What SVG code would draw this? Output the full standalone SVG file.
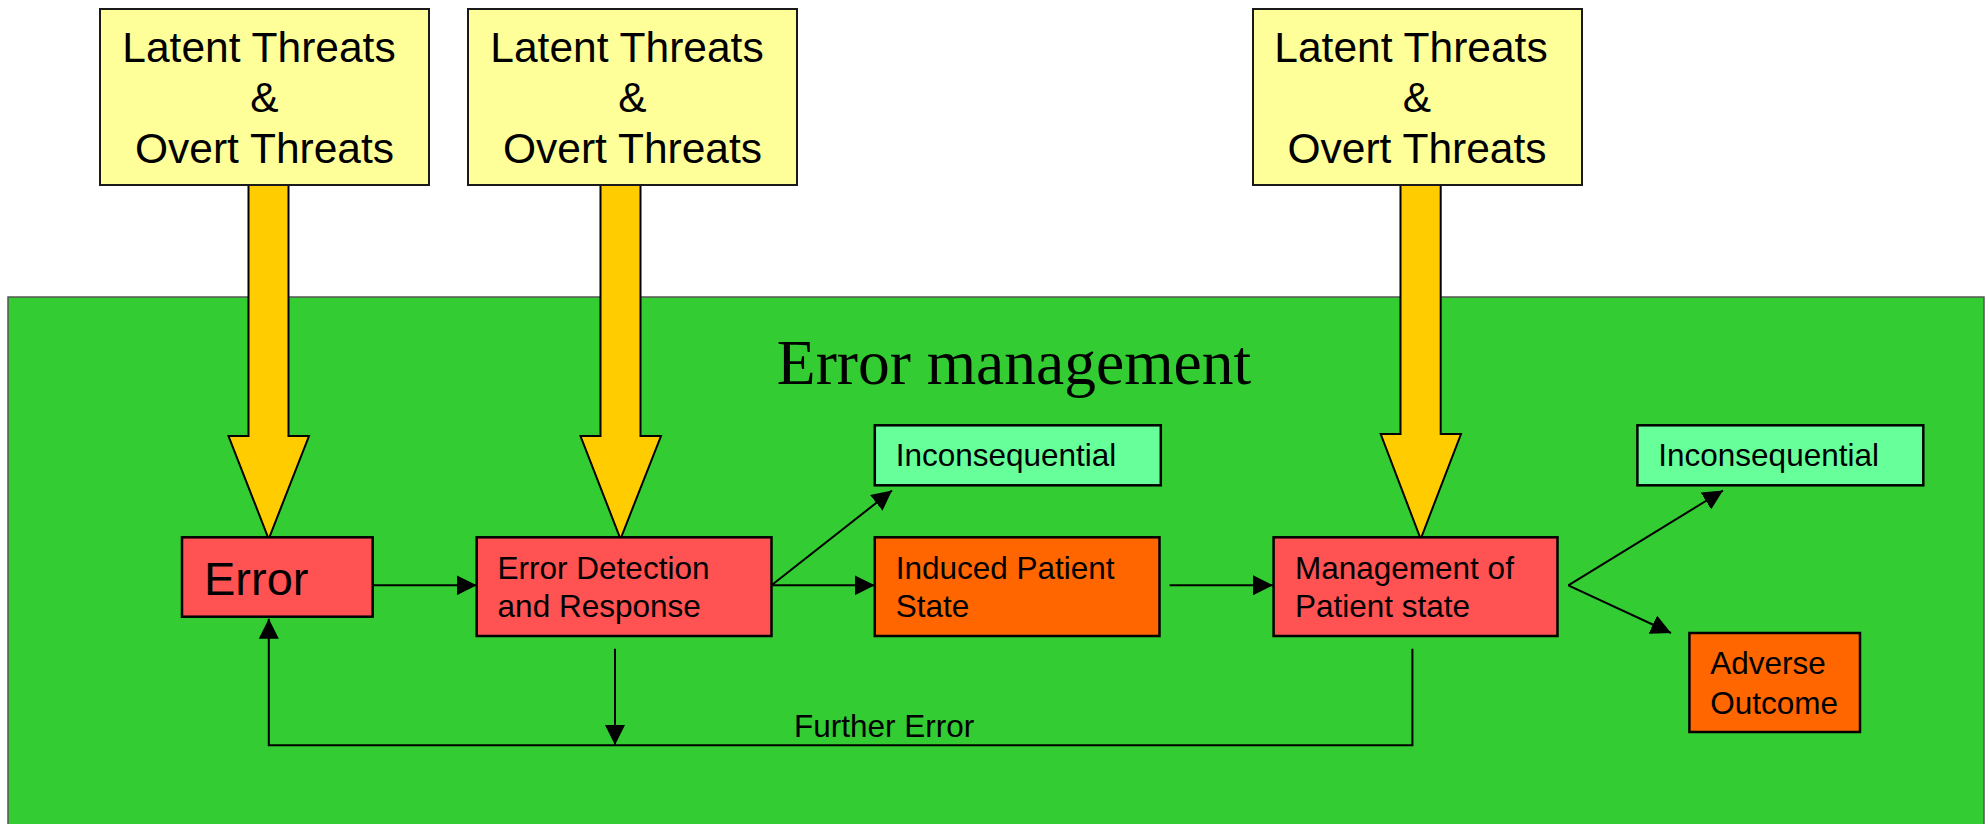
<svg xmlns="http://www.w3.org/2000/svg" width="1988" height="824" viewBox="0 0 1988 824">
<style>
.threat{fill:#FFFF99;stroke:#1a1a1a;stroke-width:2}
.big{fill:#FFCC00;stroke:#000;stroke-width:2;stroke-linejoin:miter}
.red{fill:#FF5252;stroke:#000;stroke-width:2.5}
.orange{fill:#FF6600;stroke:#000;stroke-width:2.5}
.lg{fill:#66FF99;stroke:#000;stroke-width:2.5}
.t42{font-family:"Liberation Sans",Arial,sans-serif;font-size:42.5px;fill:#000;text-anchor:middle}
.t31{font-family:"Liberation Sans",Arial,sans-serif;font-size:31.5px;fill:#000}
.conn{fill:none;stroke:#000;stroke-width:2}
</style>
<defs>
<marker id="ah" markerUnits="userSpaceOnUse" markerWidth="20" markerHeight="20" refX="20" refY="10" orient="auto" viewBox="0 0 20 20">
<path d="M0,0 L20,10 L0,20 z" fill="#000"/>
</marker>
</defs>
<rect id="frame" x="8" y="297" width="1976" height="540" fill="#33CC33" stroke="#555" stroke-width="1.5"/>
<text x="1014" y="384" font-family="'Liberation Serif','Times New Roman',serif" font-size="63.5" text-anchor="middle" fill="#000">Error management</text>

<g id="threat-arrows">
<polygon class="big" points="248.5,185 248.5,436 228.5,436 268.7,539 309,436 288.5,436 288.5,185"/>
<polygon class="big" points="600.5,185 600.5,436 580.5,436 620.5,539 661,436 640.5,436 640.5,185"/>
<polygon class="big" points="1400.5,185 1400.5,434 1380.7,434 1420.7,539 1461,434 1440.7,434 1440.7,185"/>
</g>

<g id="threat1">
<rect class="threat" x="100" y="9" width="329" height="176"/>
<text class="t42" x="259" y="62">Latent Threats</text>
<text class="t42" x="264.5" y="112">&amp;</text>
<text class="t42" x="264.5" y="163">Overt Threats</text>
</g>
<g id="threat2">
<rect class="threat" x="468" y="9" width="329" height="176"/>
<text class="t42" x="627" y="62">Latent Threats</text>
<text class="t42" x="632.5" y="112">&amp;</text>
<text class="t42" x="632.5" y="163">Overt Threats</text>
</g>
<g id="threat3">
<rect class="threat" x="1253" y="9" width="329" height="176"/>
<text class="t42" x="1411" y="62">Latent Threats</text>
<text class="t42" x="1417" y="112">&amp;</text>
<text class="t42" x="1417" y="163">Overt Threats</text>
</g>

<g id="connectors">
<line class="conn" x1="373" y1="585.3" x2="476.7" y2="585.3" marker-end="url(#ah)"/>
<line class="conn" x1="771.5" y1="585.3" x2="874.8" y2="585.3" marker-end="url(#ah)"/>
<line class="conn" x1="771.5" y1="585.3" x2="892" y2="490.5" marker-end="url(#ah)"/>
<line class="conn" x1="1169.6" y1="585.3" x2="1273" y2="585.3" marker-end="url(#ah)"/>
<line class="conn" x1="1568.3" y1="585.3" x2="1723" y2="490.5" marker-end="url(#ah)"/>
<line class="conn" x1="1568.3" y1="585.3" x2="1671" y2="633" marker-end="url(#ah)"/>
<line class="conn" x1="615" y1="648.7" x2="615" y2="745" marker-end="url(#ah)"/>
<polyline class="conn" points="1412.4,648.7 1412.4,745.3 268.8,745.3 268.8,618.7" marker-end="url(#ah)"/>
<text class="t31" x="794" y="737">Further Error</text>
</g>

<g id="error">
<rect class="red" x="182" y="537.3" width="190.7" height="79.4"/>
<text x="204" y="594.7" font-family="'Liberation Sans',Arial,sans-serif" font-size="47" fill="#000">Error</text>
</g>
<g id="detection">
<rect class="red" x="476.7" y="537.3" width="294.8" height="98.7"/>
<text class="t31" x="497.6" y="578.7">Error Detection</text>
<text class="t31" x="497.6" y="616.5">and Response</text>
</g>
<g id="inconsequential1">
<rect class="lg" x="874.8" y="425.3" width="286" height="60"/>
<text class="t31" x="895.7" y="466.3">Inconsequential</text>
</g>
<g id="induced">
<rect class="orange" x="874.8" y="537.3" width="284.7" height="98.7"/>
<text class="t31" x="895.7" y="578.7">Induced Patient</text>
<text class="t31" x="895.7" y="616.5">State</text>
</g>
<g id="management">
<rect class="red" x="1273.6" y="537.3" width="283.9" height="98.7"/>
<text class="t31" x="1295" y="578.7">Management of</text>
<text class="t31" x="1295" y="617">Patient state</text>
</g>
<g id="inconsequential2">
<rect class="lg" x="1637.4" y="425.3" width="285.9" height="60"/>
<text class="t31" x="1658.3" y="466.3">Inconsequential</text>
</g>
<g id="adverse">
<rect class="orange" x="1689.4" y="633" width="170.6" height="99"/>
<text class="t31" x="1710.3" y="674.3">Adverse</text>
<text class="t31" x="1710.3" y="713.7">Outcome</text>
</g>
</svg>
